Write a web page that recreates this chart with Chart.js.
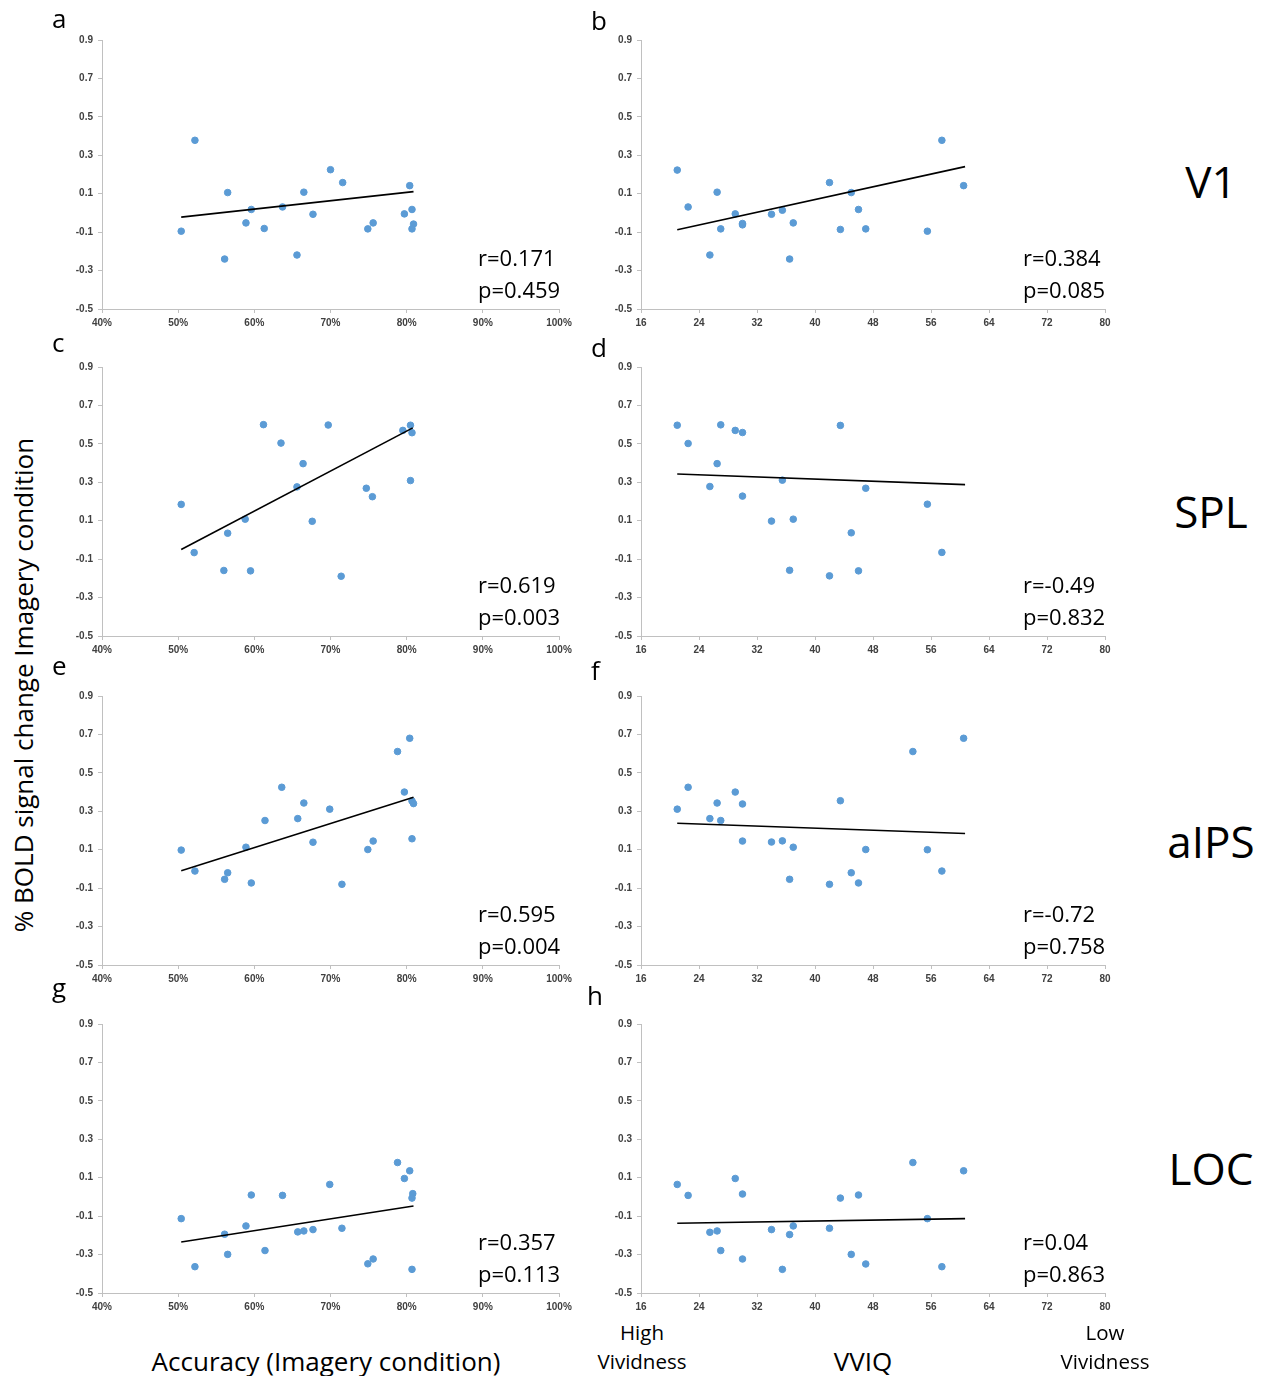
<!DOCTYPE html>
<html>
<head>
<meta charset="utf-8">
<script src="https://cdn.jsdelivr.net/npm/chart.js@4.4.0/dist/chart.umd.min.js"></script>
<style>
body { margin:0; width:1261px; height:1376px; background:#fff; position:relative; overflow:hidden; font-family:'Open Sans', sans-serif; }
canvas { position:absolute; }
.txt { position:absolute; white-space:nowrap; line-height:1; color:#000; }
</style>
</head>
<body>
<script>
// left column: x = accuracy in imagery condition (%), right column: x = VVIQ score
// each point is [x, % BOLD signal change]
let v1Acc = [[50.4,-0.095],[52.2,0.378],[56.1,-0.240],[56.5,0.106],[58.9,-0.052],[59.6,0.018],[61.3,-0.081],[63.7,0.031],[65.6,-0.219],[66.5,0.108],[67.7,-0.007],[70.0,0.225],[71.6,0.158],[74.9,-0.083],[75.6,-0.052],[79.7,-0.005],[80.4,0.142],[80.7,0.018],[80.9,-0.058],[80.7,-0.083]];
let v1Vviq = [[21.0,0.223],[22.5,0.031],[25.5,-0.219],[26.5,0.108],[27.0,-0.083],[29.0,-0.005],[30.0,-0.055],[30.0,-0.062],[34.0,-0.007],[35.5,0.014],[36.5,-0.240],[37.0,-0.052],[42.0,0.158],[43.5,-0.086],[45.0,0.106],[46.0,0.018],[47.0,-0.083],[55.5,-0.095],[57.5,0.378],[60.5,0.142]];
let splAcc = [[50.4,0.185],[52.1,-0.066],[56.0,-0.159],[56.5,0.035],[58.8,0.108],[59.5,-0.161],[61.2,0.600],[63.5,0.504],[65.6,0.276],[66.4,0.397],[67.6,0.097],[69.7,0.598],[71.4,-0.189],[74.7,0.269],[75.5,0.225],[79.5,0.570],[80.5,0.597],[80.7,0.558],[80.5,0.309]];
let splVviq = [[21.0,0.597],[22.5,0.502],[25.5,0.278],[26.5,0.397],[27.0,0.599],[29.0,0.570],[30.0,0.559],[30.0,0.228],[34.0,0.098],[35.5,0.311],[36.5,-0.158],[37.0,0.108],[42.0,-0.187],[43.5,0.596],[45.0,0.037],[46.0,-0.161],[47.0,0.269],[55.5,0.186],[57.5,-0.065]];
let aipsAcc = [[50.4,0.098],[52.2,-0.011],[56.1,-0.054],[56.5,-0.020],[58.9,0.113],[59.6,-0.073],[61.4,0.252],[63.6,0.425],[65.7,0.262],[66.5,0.343],[67.7,0.139],[69.9,0.311],[71.5,-0.080],[74.9,0.101],[75.6,0.145],[78.8,0.611],[79.7,0.400],[80.4,0.680],[80.7,0.354],[80.9,0.340],[80.7,0.157]];
let aipsVviq = [[21.0,0.311],[22.5,0.425],[25.5,0.262],[26.5,0.343],[27.0,0.252],[29.0,0.400],[30.0,0.338],[30.0,0.145],[34.0,0.140],[35.5,0.146],[36.5,-0.054],[37.0,0.113],[42.0,-0.080],[43.5,0.355],[45.0,-0.020],[46.0,-0.073],[47.0,0.101],[53.5,0.611],[55.5,0.100],[57.5,-0.011],[60.5,0.680]];
let locAcc = [[50.4,-0.113],[52.2,-0.363],[56.1,-0.194],[56.5,-0.299],[58.9,-0.151],[59.6,0.010],[61.4,-0.279],[63.7,0.008],[65.7,-0.182],[66.5,-0.177],[67.7,-0.170],[69.9,0.065],[71.5,-0.163],[74.9,-0.348],[75.6,-0.323],[78.8,0.179],[79.7,0.096],[80.4,0.136],[80.8,0.017],[80.7,-0.006],[80.7,-0.377]];
let locVviq = [[21.0,0.065],[22.5,0.008],[25.5,-0.184],[26.5,-0.177],[27.0,-0.279],[29.0,0.096],[30.0,0.015],[30.0,-0.323],[34.0,-0.170],[35.5,-0.377],[36.5,-0.196],[37.0,-0.151],[42.0,-0.163],[43.5,-0.006],[45.0,-0.299],[46.0,0.010],[47.0,-0.349],[53.5,0.179],[55.5,-0.113],[57.5,-0.363],[60.5,0.136]];

// trend line end points
let fitV1Acc = [[50.4,-0.022],[80.9,0.111]];
let fitV1Vviq = [[21.0,-0.088],[60.7,0.241]];
let fitSplAcc = [[50.4,-0.050],[80.8,0.583]];
let fitSplVviq = [[21.0,0.343],[60.7,0.288]];
let fitAipsAcc = [[50.4,-0.009],[80.9,0.373]];
let fitAipsVviq = [[21.0,0.238],[60.7,0.184]];
let fitLocAcc = [[50.4,-0.235],[80.9,-0.047]];
let fitLocVviq = [[21.0,-0.137],[60.7,-0.113]];

let rValues = ["r=0.171", "r=0.384", "r=0.619", "r=-0.49", "r=0.595", "r=-0.72", "r=0.357", "r=0.04"];
let pValues = ["p=0.459", "p=0.085", "p=0.003", "p=0.832", "p=0.004", "p=0.758", "p=0.113", "p=0.863"];
let panelLetters = ["a", "b", "c", "d", "e", "f", "g", "h"];
let regions = ["V1", "SPL", "aIPS", "LOC"];

let accTicks = [40, 100, 10];
let vviqTicks = [16, 80, 8];
let boldTicks = [-0.5, 0.9, 0.2];

let pointSets = [v1Acc, v1Vviq, splAcc, splVviq, aipsAcc, aipsVviq, locAcc, locVviq];
let fitSets = [fitV1Acc, fitV1Vviq, fitSplAcc, fitSplVviq, fitAipsAcc, fitAipsVviq, fitLocAcc, fitLocVviq];

// plot area positions
let colLeft = [102, 641];
let colWidth = [457, 464];
let rowTop = [39, 366, 695, 1023];
let areaH = 270;

function toXY(arr) {
    return arr.map(function (p) { return {x: p[0], y: p[1]}; });
}

function addText(str, left, top, size, extra) {
    let d = document.createElement('div');
    d.className = 'txt';
    d.textContent = str;
    d.style.left = left + 'px';
    d.style.top = top + 'px';
    d.style.fontSize = size + 'px';
    if (extra) Object.assign(d.style, extra);
    document.body.appendChild(d);
    return d;
}

function makePanel(i) {
    let col = i % 2;
    let row = Math.floor(i / 2);
    let xt = col === 0 ? accTicks : vviqTicks;
    let left = colLeft[col], top = rowTop[row], w = colWidth[col];

    let cvs = document.createElement('canvas');
    cvs.width = w + 58;
    cvs.height = areaH + 10 + 24;
    cvs.style.left = (left - 40) + 'px';
    cvs.style.top = (top - 10) + 'px';
    document.body.appendChild(cvs);

    let tickFont = {family: "'Liberation Sans', Arial, sans-serif", size: 10, weight: 'bold'};

    new Chart(cvs.getContext('2d'), {
        type: 'scatter',
        data: {
            datasets: [{
                data: toXY(pointSets[i]),
                backgroundColor: '#5b9bd5',
                borderColor: '#5b9bd5',
                pointRadius: 3.3,
                order: 2
            }, {
                type: 'line',
                data: toXY(fitSets[i]),
                borderColor: '#000',
                borderWidth: 1.6,
                pointRadius: 0,
                fill: false,
                order: 1
            }]
        },
        options: {
            responsive: false,
            animation: false,
            layout: {padding: {top: 10, right: 18, left: 0, bottom: 0}},
            plugins: {legend: {display: false}, tooltip: {enabled: false}},
            scales: {
                x: {
                    type: 'linear',
                    min: xt[0], max: xt[1],
                    grid: {display: true, drawOnChartArea: false, drawTicks: true, tickLength: 4, color: '#c0c0c0'},
                    border: {display: true, color: '#c0c0c0'},
                    ticks: {
                        stepSize: xt[2], autoSkip: false, maxRotation: 0, padding: 4,
                        color: '#404040', font: tickFont,
                        callback: function (v) { return col === 0 ? v + '%' : v; }
                    },
                    afterFit: function (s) { s.height = 24; }
                },
                y: {
                    min: boldTicks[0], max: boldTicks[1],
                    grid: {display: true, drawOnChartArea: false, drawTicks: true, tickLength: 4, color: '#c0c0c0'},
                    border: {display: true, color: '#c0c0c0'},
                    ticks: {
                        stepSize: boldTicks[2], autoSkip: false, padding: 5,
                        color: '#404040', font: tickFont,
                        callback: function (v) { return v.toFixed(1); }
                    },
                    afterFit: function (s) { s.width = 40; }
                }
            }
        }
    });

    // stats text, baseline ~44px and ~12px above the x axis
    let statLeft = col === 0 ? 478 : 1023;
    addText(rValues[i], statLeft, top + areaH - 44 - 19.5, 22);
    addText(pValues[i], statLeft, top + areaH - 12 - 19.5, 22);
}

for (let i = 0; i < 8; i++) {
    makePanel(i);
}

// panel letters
let letterPos = [[52, 28], [591, 30], [52, 352], [591, 357], [52, 675], [591, 680], [52, 997], [587, 1005]];
for (let i = 0; i < 8; i++) {
    addText(panelLetters[i], letterPos[i][0], letterPos[i][1] - 0.888 * 26, 26);
}

// region names on the right
let regionBase = [198, 528, 858, 1185];
for (let i = 0; i < 4; i++) {
    addText(regions[i], 1211, regionBase[i] - 0.888 * 44, 44, {transform: 'translateX(-50%)'});
}

// axis titles
addText('% BOLD signal change Imagery condition', 23, 685, 26,
    {transform: 'translate(-50%, -50%) rotate(-90deg)'});
addText('Accuracy (Imagery condition)', 326, 1371 - 0.888 * 26, 26, {transform: 'translateX(-50%)'});
addText('VVIQ', 863, 1371 - 0.888 * 26, 26, {transform: 'translateX(-50%)'});
addText('High', 642, 1340 - 0.888 * 20.5, 20.5, {transform: 'translateX(-50%)'});
addText('Vividness', 642, 1369 - 0.888 * 20.5, 20.5, {transform: 'translateX(-50%)'});
addText('Low', 1105, 1340 - 0.888 * 20.5, 20.5, {transform: 'translateX(-50%)'});
addText('Vividness', 1105, 1369 - 0.888 * 20.5, 20.5, {transform: 'translateX(-50%)'});
</script>
</body>
</html>
